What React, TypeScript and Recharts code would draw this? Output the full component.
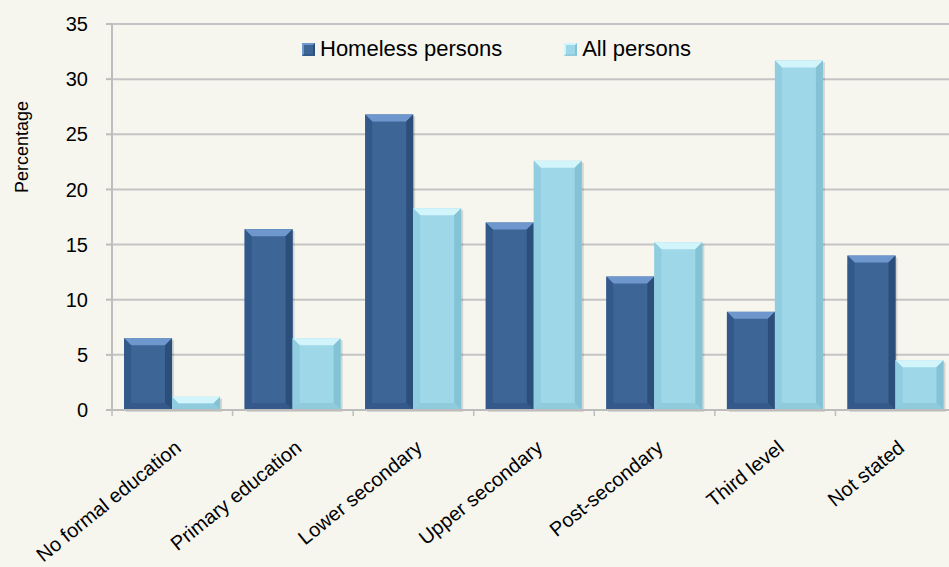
import React from 'react';
import { BarChart, Bar, XAxis, YAxis, CartesianGrid, Legend } from 'recharts';

const categories = [
  'No formal education',
  'Primary education',
  'Lower secondary',
  'Upper secondary',
  'Post-secondary',
  'Third level',
  'Not stated',
];
const homelessPersons = [6.5, 16.4, 26.8, 17.0, 12.1, 8.9, 14.0];
const allPersons = [1.2, 6.5, 18.3, 22.6, 15.2, 31.7, 4.5];
const yTicks = [0, 5, 10, 15, 20, 25, 30, 35];

const series = [
  { key: 'homeless', name: 'Homeless persons', color: '#3d6696' },
  { key: 'all', name: 'All persons', color: '#9ed7e8' },
];

const data = categories.map((name, i) => ({
  name,
  homeless: homelessPersons[i],
  all: allPersons[i],
}));

const FONT = '"Liberation Sans", Arial, sans-serif';

// bevel colours per series: main face, top, sides, bottom
const palette: Record<string, { face: string; top: string; left: string; right: string; bottom: string }> = {
  '#3d6696': { face: '#3d6696', top: '#6e97cd', left: '#33598b', right: '#2c4e7b', bottom: '#34598a' },
  '#9ed7e8': { face: '#9ed7e8', top: '#d2f5fc', left: '#90cde0', right: '#84c2d5', bottom: '#8fcbdd' },
};

const BevelBar = (props: any) => {
  const { x, y, width, height, fill } = props;
  if (!height || height <= 0) return null;
  const c = palette[fill] || palette['#3d6696'];
  const b = Math.min(7, height / 2, width / 2);
  return (
    <g>
      <rect x={x + 2} y={y + 2} width={width} height={height} fill="rgba(0,0,0,0.13)" />
      <rect x={x} y={y} width={width} height={height} fill={c.face} />
      <polygon points={`${x},${y} ${x + width},${y} ${x + width - b},${y + b} ${x + b},${y + b}`} fill={c.top} />
      <polygon points={`${x},${y} ${x + b},${y + b} ${x + b},${y + height - b} ${x},${y + height}`} fill={c.left} />
      <polygon points={`${x + width},${y} ${x + width - b},${y + b} ${x + width - b},${y + height - b} ${x + width},${y + height}`} fill={c.right} />
      <polygon points={`${x},${y + height} ${x + b},${y + height - b} ${x + width - b},${y + height - b} ${x + width},${y + height}`} fill={c.bottom} />
    </g>
  );
};

const XTick = (props: any) => {
  const { x, y, payload } = props;
  const half = payload && payload.offset ? payload.offset : 60;
  return (
    <g>
      <line x1={x - half} x2={x - half} y1={y} y2={y + 6} stroke="#bdbdbd" strokeWidth={1.5} />
      <text
        x={x + 10}
        y={y + 40}
        textAnchor="end"
        transform={`rotate(-39, ${x + 10}, ${y + 40})`}
        fontSize={20}
        fontFamily={FONT}
        fill="#000"
      >
        {payload.value}
      </text>
    </g>
  );
};

const LegendContent = () => (
  <div style={{ display: 'flex', alignItems: 'center', fontFamily: FONT, fontSize: 22, color: '#000' }}>
    {series.map((s) => {
      const c = palette[s.color];
      return (
        <div key={s.key} style={{ display: 'flex', alignItems: 'center', marginRight: 62 }}>
          <span
            style={{
              width: 9,
              height: 9,
              background: c.face,
              border: `2px solid ${c.top}`,
              borderRightColor: c.right,
              borderBottomColor: c.bottom,
              marginRight: 5,
            }}
          />
          <span>{s.name}</span>
        </div>
      );
    })}
  </div>
);

export default function App() {
  return (
    <div style={{ position: 'fixed', left: 0, top: 0, width: 949, height: 567, overflow: 'hidden', background: '#f6f6ef' }}>
      <div
        style={{
          position: 'absolute',
          left: 22,
          top: 147,
          transform: 'translate(-50%, -50%) rotate(-90deg)',
          fontFamily: FONT,
          fontSize: 18,
          whiteSpace: 'nowrap',
          color: '#000',
        }}
      >
        Percentage
      </div>
      <BarChart
        width={960}
        height={567}
        data={data}
        margin={{ top: 24, right: 4, left: 0, bottom: 0 }}
        barCategoryGap="10%"
        barGap={0}
      >
        <CartesianGrid vertical={false} stroke="#c4c4c4" strokeWidth={2} />
        <XAxis
          dataKey="name"
          height={157}
          interval={0}
          tickLine={false}
          tickSize={0}
          tickMargin={0}
          axisLine={{ stroke: '#bdbdbd', strokeWidth: 2 }}
          tick={<XTick />}
        />
        <YAxis
          width={112}
          domain={[0, 35]}
          ticks={yTicks}
          interval={0}
          tickSize={6}
          tickMargin={18}
          axisLine={{ stroke: '#bdbdbd', strokeWidth: 2 }}
          tickLine={{ stroke: '#bdbdbd', strokeWidth: 2 }}
          tick={{ fill: '#000', fontSize: 20, fontFamily: FONT }}
        />
        <Legend
          layout="vertical"
          align="center"
          verticalAlign="middle"
          content={<LegendContent />}
          wrapperStyle={{ top: 36, left: 302, width: 'auto' }}
        />
        {series.map((s) => (
          <Bar key={s.key} dataKey={s.key} name={s.name} fill={s.color} shape={<BevelBar />} isAnimationActive={false} />
        ))}
      </BarChart>
    </div>
  );
}
